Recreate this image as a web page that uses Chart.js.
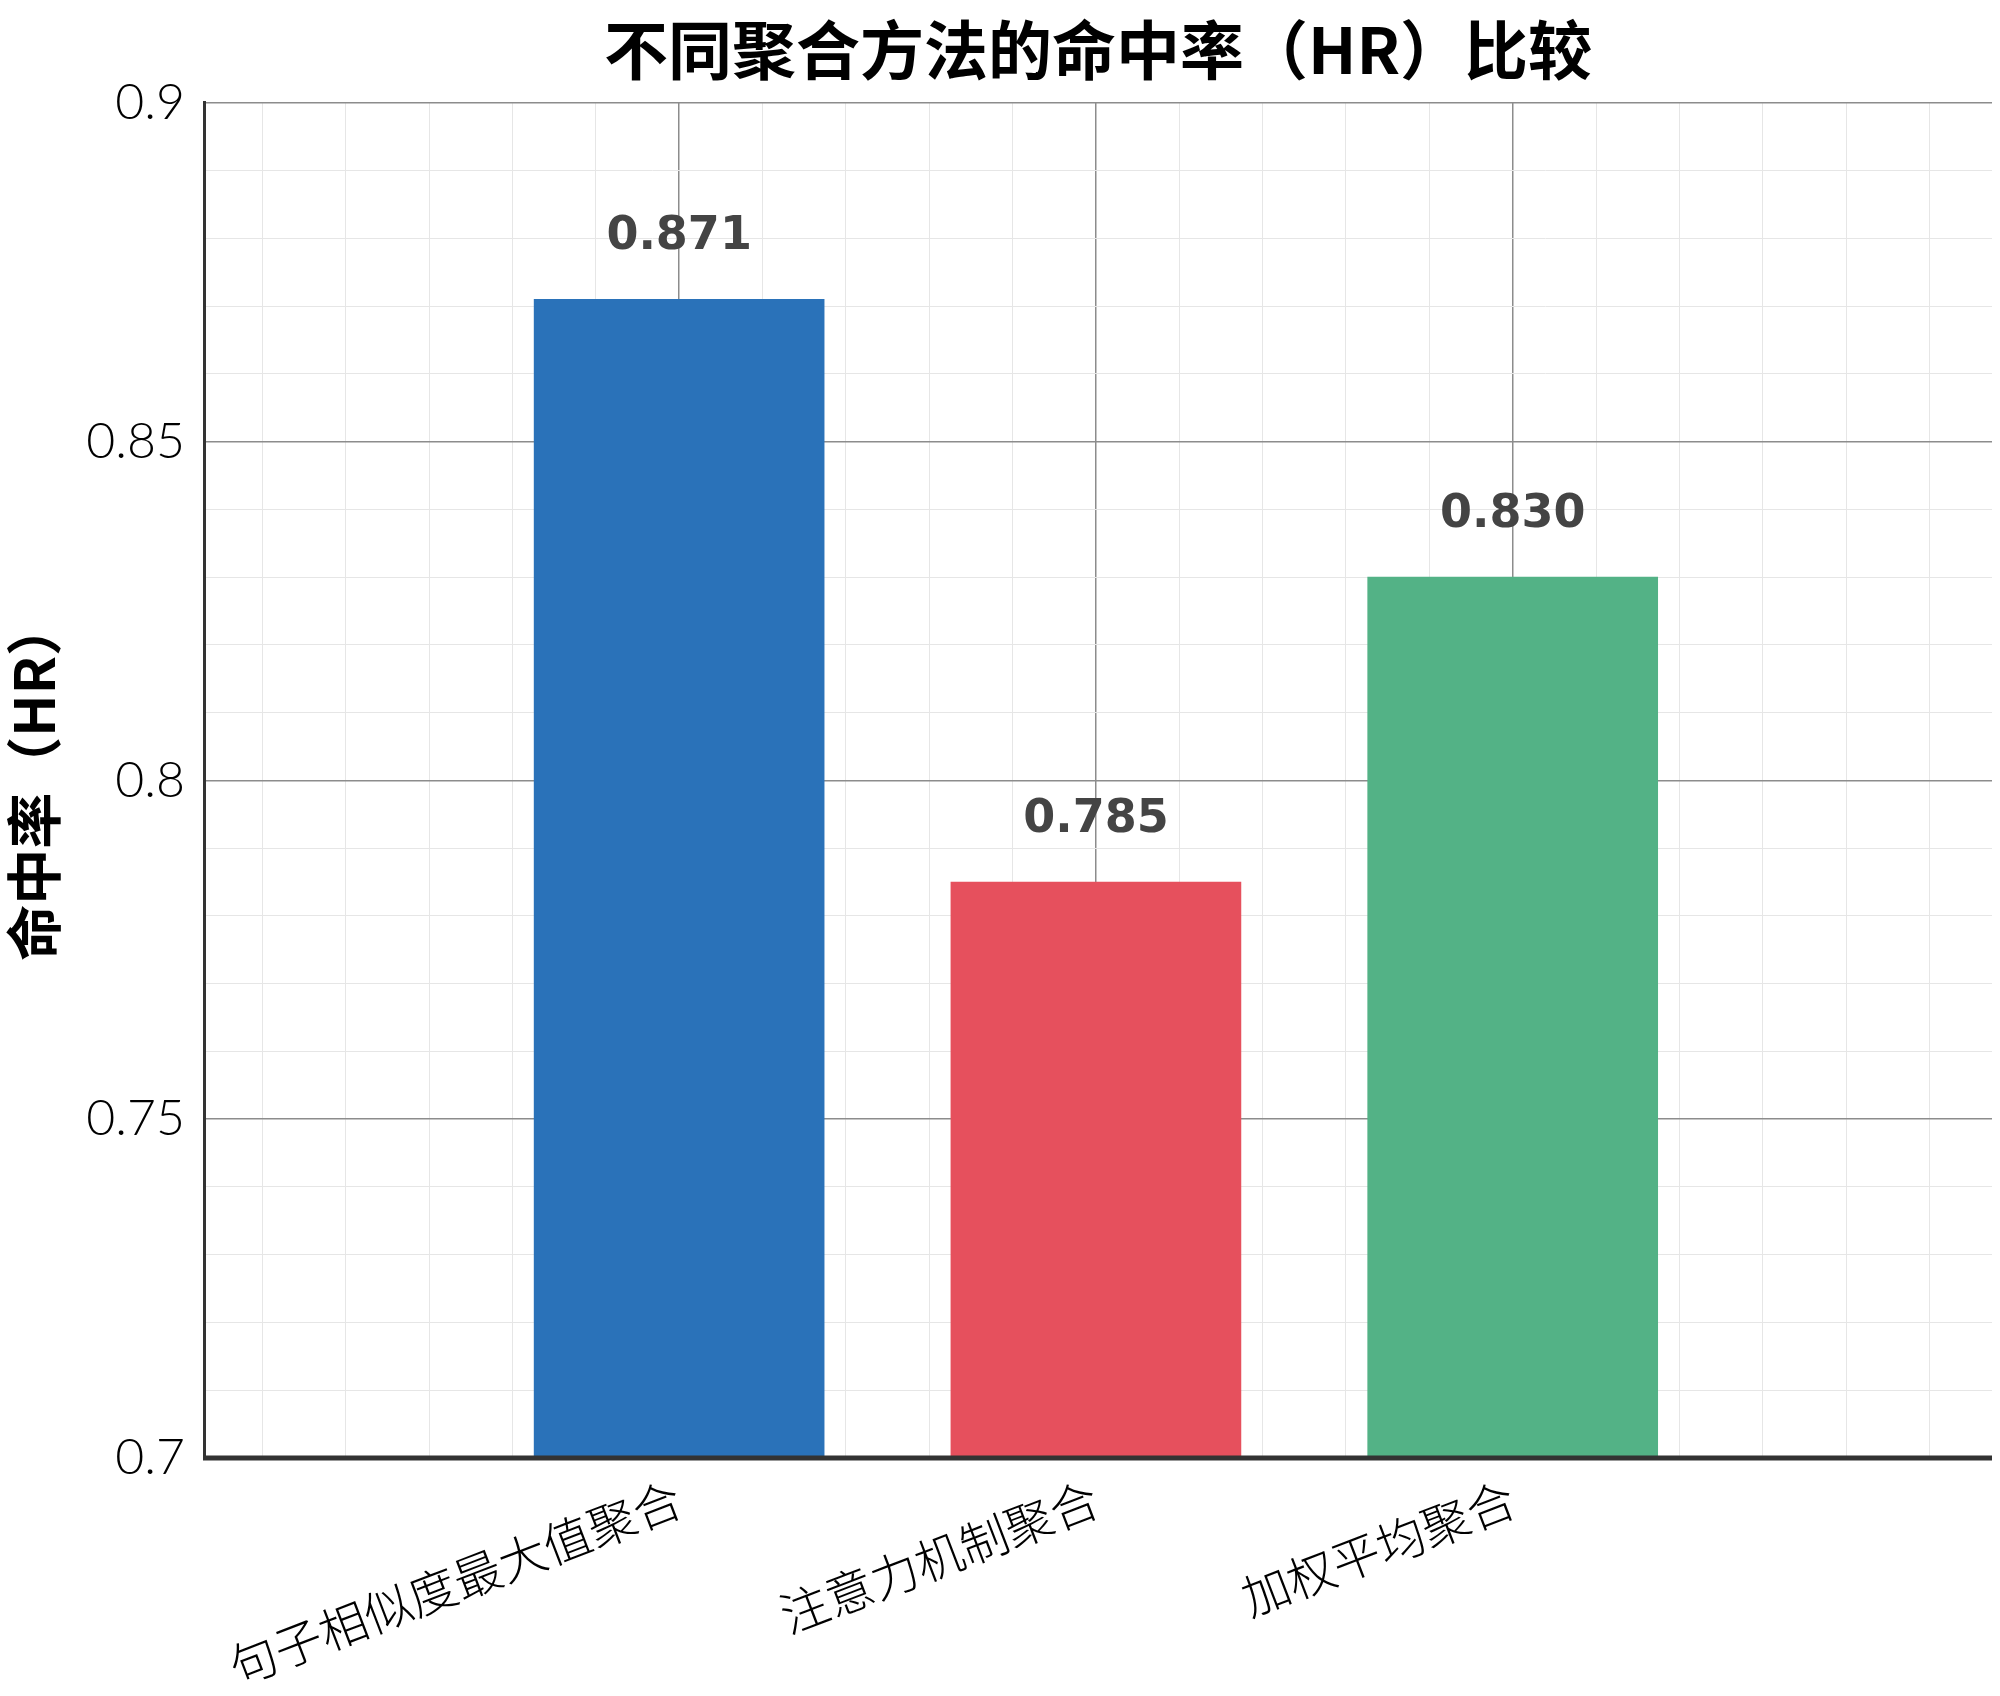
<!DOCTYPE html>
<html lang="zh">
<head>
<meta charset="utf-8">
<title>不同聚合方法的命中率（HR）比较</title>
<script src="https://cdn.jsdelivr.net/npm/chart.js@4.4.1/dist/chart.umd.min.js"></script>
<style>
  html, body { margin: 0; padding: 0; background: #fff; }
  #wrap { width: 2000px; height: 1696px; }
</style>
</head>
<body>
<div id="wrap"><canvas id="hrChart"></canvas></div>
<script>
// data
const methods = ['句子相似度最大值聚合', '注意力机制聚合', '加权平均聚合'];
const hitRates = [0.871, 0.785, 0.830];
const barColors = ['#2a72b9', '#e6505d', '#53b286'];
const yLabelTicks = [0.7, 0.75, 0.8, 0.85, 0.9];

const isWhole = v => v !== undefined && Math.abs(v - Math.round(v)) < 1e-6;
const isCategory = v => isWhole(v) && Math.round(v) >= 0 && Math.round(v) < methods.length;
const isLabelTick = v => v !== undefined && yLabelTicks.some(t => Math.abs(t - v) < 1e-6);
const tickVal = c => (c && c.tick) ? c.tick.value : undefined;

// value text above each bar + bottom spine drawn over the bars
const barValueLabels = {
  id: 'barValueLabels',
  afterDatasetsDraw(chart) {
    const { ctx, chartArea } = chart;
    ctx.save();
    ctx.strokeStyle = '#333333';
    ctx.lineWidth = 5;
    ctx.beginPath();
    ctx.moveTo(chartArea.left - 1, chartArea.bottom);
    ctx.lineTo(chartArea.right, chartArea.bottom);
    ctx.stroke();

    ctx.font = 'bold 46px "DejaVu Sans"';
    ctx.fillStyle = '#444444';
    ctx.textAlign = 'center';
    ctx.textBaseline = 'middle';
    chart.getDatasetMeta(0).data.forEach((bar, i) => {
      ctx.fillText(hitRates[i].toFixed(3), bar.x, bar.y - 62);
    });
    ctx.restore();
  }
};

new Chart(document.getElementById('hrChart').getContext('2d'), {
  type: 'bar',
  data: {
    datasets: [{
      label: '命中率（HR）',
      data: hitRates.map((v, i) => ({ x: i, y: v })),
      backgroundColor: barColors,
      borderWidth: 0,
      barThickness: 290
    }]
  },
  plugins: [barValueLabels],
  options: {
    responsive: true,
    maintainAspectRatio: false,
    animation: false,
    layout: { padding: { left: 0, right: 8, top: 0, bottom: 0 } },
    scales: {
      x: {
        type: 'linear',
        min: -1.14,
        max: 3.15,
        offset: false,
        afterFit: scale => { scale.height = 238; },
        border: { display: false },
        grid: {
          offset: false,
          drawTicks: false,
          color: c => isCategory(tickVal(c)) ? '#8c8c8c' : '#e6e6e6',
          lineWidth: c => isCategory(tickVal(c)) ? 1.5 : 1
        },
        ticks: {
          stepSize: 0.2,
          includeBounds: false,
          autoSkip: false,
          minRotation: 21,
          maxRotation: 21,
          padding: 12,
          color: '#000000',
          font: { family: '"Noto Sans CJK SC"', size: 48, weight: 300 },
          callback: v => isCategory(v) ? methods[Math.round(v)] : ''
        }
      },
      y: {
        min: 0.7,
        max: 0.9,
        afterFit: scale => { scale.width = 204; },
        border: { display: true, color: '#333333', width: 3 },
        grid: {
          drawTicks: false,
          color: c => isLabelTick(tickVal(c)) ? '#8c8c8c' : '#e6e6e6',
          lineWidth: c => isLabelTick(tickVal(c)) ? 1.5 : 1
        },
        ticks: {
          stepSize: 0.01,
          autoSkip: false,
          padding: 19,
          color: '#000000',
          font: { family: 'Lato', size: 50, weight: 300 },
          callback: v => isLabelTick(v) ? String(Number(v.toFixed(2))) : ''
        },
        title: {
          display: true,
          text: '命中率（HR）',
          color: '#000000',
          padding: { top: 0, bottom: 0 },
          font: { family: '"Noto Sans CJK SC"', size: 56, weight: 'bold' }
        }
      }
    },
    plugins: {
      legend: { display: false },
      tooltip: { enabled: false },
      title: {
        display: true,
        fullSize: false,
        text: '不同聚合方法的命中率（HR）比较',
        color: '#000000',
        padding: { top: 11, bottom: 15 },
        font: { family: '"Noto Sans CJK SC"', size: 64, weight: 'bold', lineHeight: 1.2 }
      }
    }
  }
});
</script>
</body>
</html>
